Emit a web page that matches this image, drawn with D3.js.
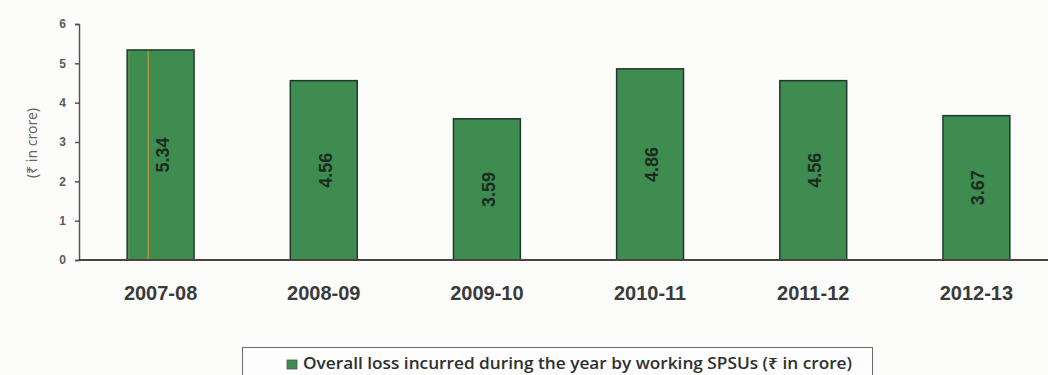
<!DOCTYPE html>
<html>
<head>
<meta charset="utf-8">
<script src="https://cdn.jsdelivr.net/npm/d3@7/dist/d3.min.js"></script>
<style>
  html, body { margin: 0; padding: 0; background: #fcfcfa; }
  svg { display: block; }
</style>
</head>
<body>
<svg id="chart" width="1048" height="375"></svg>
<script>
// Overall loss of working SPSUs per year (₹ in crore)
const years = ["2007-08", "2008-09", "2009-10", "2010-11", "2011-12", "2012-13"];
const losses = [5.34, 4.56, 3.59, 4.86, 4.56, 3.67];
const yTicks = [0, 1, 2, 3, 4, 5, 6];
const legendText = "Overall loss incurred during the year by working SPSUs (₹ in crore)";
const yTitle = "(₹ in crore)";

const svg = d3.select("#chart");
const plotLeft = 79, plotRight = 1058, plotTop = 24, plotBottom = 260;

const x = d3.scaleBand().domain(years).range([plotLeft, plotRight]).paddingInner(0.59).paddingOuter(0.295);
const y = d3.scaleLinear().domain([0, 6]).range([plotBottom, plotTop]);

const barFill = "#3e8c4f";
const barStroke = "#1f3a2a";

// bars
svg.append("g").selectAll("rect")
  .data(years)
  .join("rect")
  .attr("x", d => x(d))
  .attr("y", (d, i) => y(losses[i]))
  .attr("width", x.bandwidth())
  .attr("height", (d, i) => y(0) - y(losses[i]))
  .attr("fill", barFill)
  .attr("stroke", barStroke)
  .attr("stroke-width", 1.5);

// thin orange stripes inside the first bar
svg.append("line")
  .attr("x1", x(years[0]) + 21).attr("x2", x(years[0]) + 21)
  .attr("y1", y(losses[0]) + 1).attr("y2", y(0))
  .attr("stroke", "#d8913a").attr("stroke-width", 1.2);
svg.append("line")
  .attr("x1", x(years[0]) + 2).attr("x2", x(years[0]) + 2)
  .attr("y1", y(losses[0]) + 1).attr("y2", y(0))
  .attr("stroke", "#b88a3a").attr("stroke-width", 0.8).attr("opacity", 0.7);

// value labels, rotated, centred in each bar
svg.append("g").selectAll("text")
  .data(years)
  .join("text")
  .attr("transform", (d, i) => {
    const cx = x(d) + x.bandwidth() / 2 + 8;
    const cy = (y(losses[i]) + y(0)) / 2;
    return `translate(${cx},${cy}) rotate(-90)`;
  })
  .attr("text-anchor", "middle")
  .attr("font-family", "Liberation Sans, Arial, sans-serif")
  .attr("font-size", 18)
  .attr("font-weight", "bold")
  .attr("fill", "#1c2b20")
  .text((d, i) => losses[i].toFixed(2));

// y axis
const yAxis = svg.append("g")
  .attr("transform", `translate(${plotLeft},0)`)
  .call(d3.axisLeft(y).tickValues(yTicks).tickSize(4).tickPadding(9).tickFormat(d3.format("d")));
yAxis.select(".domain").attr("stroke", "#5a5450").attr("stroke-width", 1.5);
yAxis.selectAll(".tick line").attr("stroke", "#5a5450").attr("stroke-width", 1.5);
yAxis.selectAll(".tick text")
  .attr("font-family", "Liberation Sans, Arial, sans-serif")
  .attr("font-size", 12)
  .attr("font-weight", "bold")
  .attr("fill", "#5b5b5b");

// x axis baseline
svg.append("line")
  .attr("x1", plotLeft).attr("x2", 1048)
  .attr("y1", y(0)).attr("y2", y(0))
  .attr("stroke", "#4a4440").attr("stroke-width", 2);

// category labels
svg.append("g").selectAll("text")
  .data(years)
  .join("text")
  .attr("x", d => x(d) + x.bandwidth() / 2)
  .attr("y", 300)
  .attr("text-anchor", "middle")
  .attr("font-family", "Liberation Sans, Arial, sans-serif")
  .attr("font-size", 20)
  .attr("font-weight", "bold")
  .attr("fill", "#3a3a3a")
  .text(d => d);

// y axis title
svg.append("text")
  .attr("transform", `translate(37,143) rotate(-90)`)
  .attr("text-anchor", "middle")
  .attr("font-family", "Noto Sans, DejaVu Sans, sans-serif")
  .attr("font-size", 14)
  .attr("fill", "#6a6462")
  .text(yTitle);

// legend
const lg = svg.append("g");
lg.append("rect")
  .attr("x", 242.5).attr("y", 347.5).attr("width", 630).attr("height", 40)
  .attr("fill", "#fdfdfd").attr("stroke", "#6a6a6a").attr("stroke-width", 1);
lg.append("rect")
  .attr("x", 287).attr("y", 360).attr("width", 10).attr("height", 9)
  .attr("fill", barFill).attr("stroke", "#4a5a4a").attr("stroke-width", 0.8);
lg.append("text")
  .attr("x", 303).attr("y", 369)
  .attr("font-family", "Open Sans, Noto Sans, sans-serif")
  .attr("font-size", 15.5)
  .attr("font-weight", 600)
  .attr("fill", "#2f2f2f")
  .attr("textLength", 549)
  .attr("lengthAdjust", "spacingAndGlyphs")
  .text(legendText);
</script>
</body>
</html>
